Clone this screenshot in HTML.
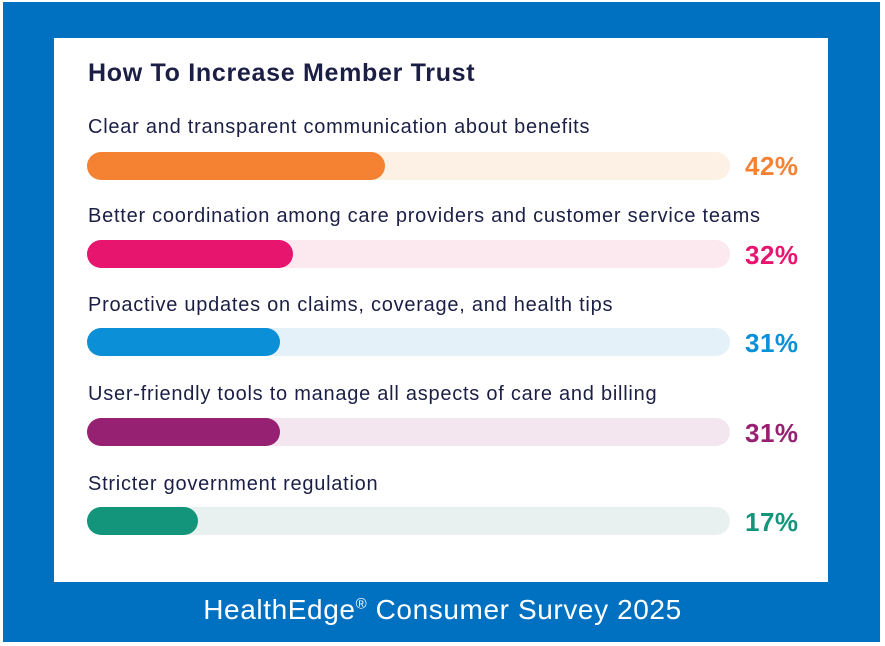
<!DOCTYPE html>
<html><head><meta charset="utf-8"><style>
html,body{margin:0;padding:0;background:#fff;}
#wrap{position:relative;width:885px;height:646px;overflow:hidden;background:#fff;font-family:"Liberation Sans",sans-serif;}
#blue{position:absolute;left:3px;top:2px;width:877px;height:640px;background:#0070c0;}
#panel{position:absolute;left:54px;top:38px;width:774px;height:544px;background:#fff;}
.title{position:absolute;left:88px;top:59px;font-size:25px;letter-spacing:0.7px;font-weight:bold;color:#1b1f45;}
.lab{position:absolute;left:88px;font-size:20px;letter-spacing:0.75px;color:#1b1f45;}
.track{position:absolute;left:87px;width:643px;height:28px;border-radius:14px;}
.fill{position:absolute;left:0;top:0;height:28px;border-radius:14px;}
.pct{position:absolute;left:745px;font-size:26px;letter-spacing:0.5px;font-weight:bold;}
.cap{position:absolute;left:0;width:885px;top:594px;text-align:center;color:#fff;font-size:28px;letter-spacing:0.6px;}
</style></head><body><div id="wrap">
<div id="blue"></div><div id="panel"></div>
<div class="title">How To Increase Member Trust</div>

<div class="lab" style="top:116px">Clear and transparent communication about benefits</div>
<div class="track" style="top:152px;background:#fdf1e6"><div class="fill" style="width:298px;background:#f58232"></div></div>
<div class="pct" style="top:151px;color:#f58232">42%</div>

<div class="lab" style="top:205px">Better coordination among care providers and customer service teams</div>
<div class="track" style="top:240px;background:#fce8ef"><div class="fill" style="width:206px;background:#e8156f"></div></div>
<div class="pct" style="top:240px;color:#e8156f">32%</div>

<div class="lab" style="top:294px">Proactive updates on claims, coverage, and health tips</div>
<div class="track" style="top:328px;background:#e5f1f9"><div class="fill" style="width:193px;background:#0b8fd6"></div></div>
<div class="pct" style="top:328px;color:#0b8fd6">31%</div>

<div class="lab" style="top:383px">User-friendly tools to manage all aspects of care and billing</div>
<div class="track" style="top:418px;background:#f3e6ef"><div class="fill" style="width:193px;background:#962071"></div></div>
<div class="pct" style="top:418px;color:#962071">31%</div>

<div class="lab" style="top:473px">Stricter government regulation</div>
<div class="track" style="top:507px;background:#e8f1ef"><div class="fill" style="width:111px;background:#12957a"></div></div>
<div class="pct" style="top:507px;color:#12957a">17%</div>

<div class="cap">HealthEdge<sup style="font-size:15px">®</sup> Consumer Survey 2025</div>
</div></body></html>
